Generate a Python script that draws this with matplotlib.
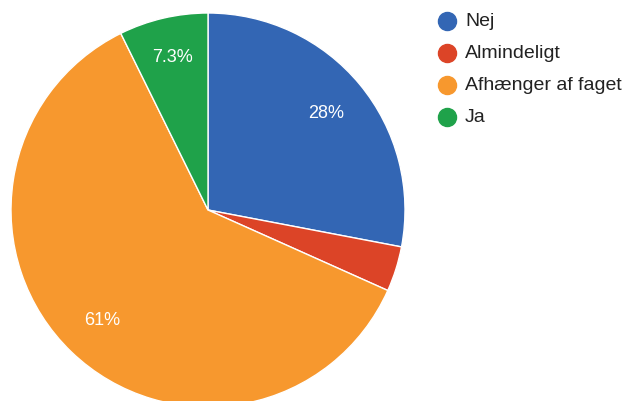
import matplotlib.pyplot as plt
import numpy as np

plt.rcParams['font.family'] = ['Liberation Sans', 'DejaVu Sans']

labels = ['Nej', 'Almindeligt', 'Afhænger af faget', 'Ja']
values = [28.0, 3.7, 61.0, 7.3]
pct_text = ['28%', '', '61%', '7.3%']
colors = ['#3366b4', '#dc4427', '#f7982e', '#1fa24a']

fig = plt.figure(figsize=(6.35, 4.02), dpi=100)
cx, cy, r = 208, 211, 197
ax = fig.add_axes([(cx - r) / 635, (402 - cy - r) / 402, 2 * r / 635, 2 * r / 402])

ax.pie(values, colors=colors, startangle=90, counterclock=False,
       radius=1, wedgeprops=dict(edgecolor='white', linewidth=1))
ax.set_xlim(-1, 1)
ax.set_ylim(-1, 1)
ax.set_aspect('equal')
ax.axis('off')

# percentage labels inside the slices
start = 90.0
total = sum(values)
for v, t in zip(values, pct_text):
    span = v / total * 360
    mid = np.deg2rad(start - span / 2)
    start -= span
    if t:
        d = 0.80 if v < 10 else 0.775
        ax.text(d * np.cos(mid), d * np.sin(mid), t, color='white', fontsize=13,
                ha='center', va='center')

# legend drawn by hand: circle + label per row
lx, ly0, step = 447, 22, 32
for i, (lab, c) in enumerate(zip(labels, colors)):
    y = 1 - (ly0 + i * step) / 402
    fig.add_artist(plt.Line2D([lx / 635], [y], marker='o', markersize=13,
                              color=c, transform=fig.transFigure))
    fig.text(465 / 635, y, lab, fontsize=14, color='#222222', va='center', ha='left')

fig.savefig('out.png', dpi=100)
